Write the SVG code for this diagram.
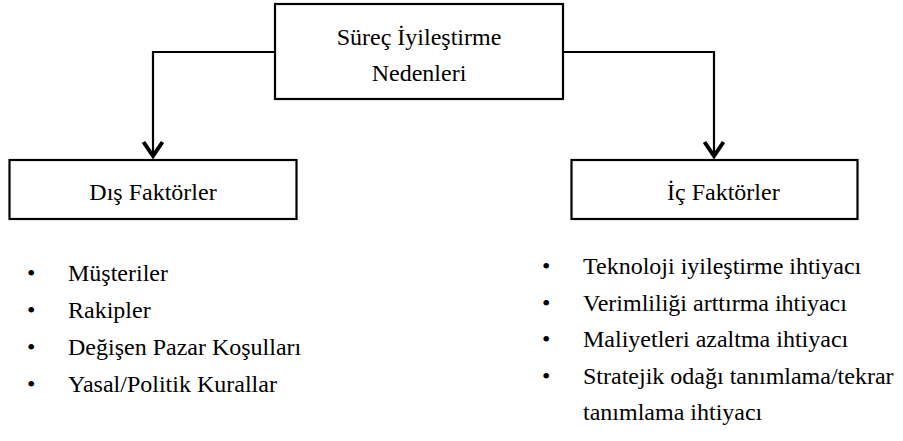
<svg xmlns="http://www.w3.org/2000/svg" width="903" height="441" viewBox="0 0 903 441">
<style>
.box{fill:#fff;stroke:#000;stroke-width:2.2}
text{font-family:'Liberation Serif','Times New Roman','DejaVu Serif',serif;font-size:24px;fill:#000}
.c{text-anchor:middle}
.ln{fill:none;stroke:#000;stroke-width:2.2}
.ah{fill:none;stroke:#000;stroke-width:4;stroke-linecap:butt;stroke-linejoin:miter}
</style>
<rect width="903" height="441" fill="#fff"/>
<g id="connectors">
<path class="ln" d="M275,52 H153 V156"/>
<path class="ln" d="M563,52 H714 V156"/>
<path class="ah" d="M143.5,142 L153,156 L162.5,142"/>
<path class="ah" d="M704.5,142 L714,156 L723.5,142"/>
</g>
<g id="root">
<rect class="box" x="275" y="4" width="288" height="95"/>
<text class="c" x="419" y="45" font-family="Liberation Serif, serif">Süreç İyileştirme</text>
<text class="c" x="419" y="81" font-family="Liberation Serif, serif">Nedenleri</text>
</g>
<g id="dis">
<rect class="box" x="9.5" y="160" width="287" height="59"/>
<text class="c" x="153" y="200" font-family="Liberation Serif, serif">Dış Faktörler</text>
</g>
<g id="ic">
<rect class="box" x="571.5" y="160" width="286" height="59"/>
<text x="667" y="200" font-family="Liberation Serif, serif">İç Faktörler</text>
</g>
<g id="dis-list" font-family="Liberation Serif, serif">
<text x="27" y="281">•</text><text x="68" y="281">Müşteriler</text>
<text x="27" y="318">•</text><text x="68" y="318">Rakipler</text>
<text x="27" y="355">•</text><text x="68" y="355">Değişen Pazar Koşulları</text>
<text x="27" y="392">•</text><text x="68" y="392">Yasal/Politik Kurallar</text>
</g>
<g id="ic-list" font-family="Liberation Serif, serif">
<text x="542" y="274">•</text><text x="583" y="274">Teknoloji iyileştirme ihtiyacı</text>
<text x="542" y="311">•</text><text x="583" y="311">Verimliliği arttırma ihtiyacı</text>
<text x="542" y="347">•</text><text x="583" y="347">Maliyetleri azaltma ihtiyacı</text>
<text x="542" y="384">•</text><text x="583" y="384">Stratejik odağı tanımlama/tekrar</text>
<text x="583" y="420">tanımlama ihtiyacı</text>
</g>
</svg>
